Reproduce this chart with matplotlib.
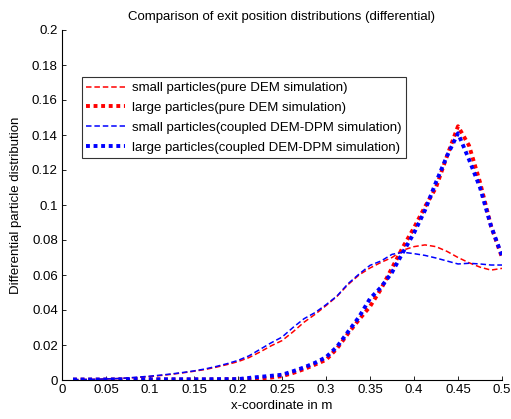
import matplotlib
matplotlib.use("Agg")
import matplotlib.pyplot as plt
import numpy as np

plt.rcParams['font.family'] = ['Liberation Sans', 'DejaVu Sans']

x = [0.0125, 0.025, 0.0375, 0.05, 0.0625, 0.075, 0.0875, 0.1, 0.1125, 0.125,
     0.1375, 0.15, 0.1625, 0.175, 0.1875, 0.2, 0.2125, 0.225, 0.2375, 0.25,
     0.2625, 0.275, 0.2875, 0.3, 0.3125, 0.325, 0.3375, 0.35, 0.3625, 0.375,
     0.3875, 0.4, 0.4125, 0.425, 0.4375, 0.45, 0.4625, 0.475, 0.4875, 0.5]

small_dem = [0.0002, 0.0003, 0.0004, 0.0006, 0.0008, 0.0011, 0.0015, 0.0020, 0.0026, 0.0033,
             0.0041, 0.0050, 0.0060, 0.0073, 0.0088, 0.0105, 0.0128, 0.0160, 0.0195, 0.0225,
             0.0275, 0.0330, 0.0375, 0.0425, 0.0478, 0.0545, 0.0600, 0.0640, 0.0672, 0.0700,
             0.0742, 0.0762, 0.0772, 0.0762, 0.0735, 0.0700, 0.0670, 0.0645, 0.0628, 0.0638]

large_dem = [0.0002, 0.0002, 0.0002, 0.0002, 0.0003, 0.0003, 0.0003, 0.0003, 0.0003, 0.0003,
             0.0003, 0.0003, 0.0003, 0.0003, 0.0004, 0.0004, 0.0006, 0.0009, 0.0014, 0.0022,
             0.0040, 0.0062, 0.0088, 0.0115, 0.0180, 0.0265, 0.0345, 0.0420, 0.0520, 0.0640,
             0.0760, 0.0870, 0.0990, 0.1100, 0.1280, 0.1450, 0.1340, 0.1130, 0.0880, 0.0700]

small_cpl = [0.0002, 0.0003, 0.0004, 0.0006, 0.0008, 0.0012, 0.0017, 0.0022, 0.0028, 0.0035,
             0.0043, 0.0052, 0.0063, 0.0077, 0.0093, 0.0112, 0.0138, 0.0175, 0.0212, 0.0245,
             0.0300, 0.0350, 0.0385, 0.0430, 0.0480, 0.0550, 0.0605, 0.0655, 0.0680, 0.0718,
             0.0730, 0.0722, 0.0712, 0.0697, 0.0680, 0.0663, 0.0667, 0.0663, 0.0657, 0.0657]

large_cpl = [0.0003, 0.0003, 0.0003, 0.0003, 0.0004, 0.0004, 0.0004, 0.0004, 0.0004, 0.0004,
             0.0004, 0.0004, 0.0004, 0.0005, 0.0005, 0.0005, 0.0012, 0.0018, 0.0024, 0.0030,
             0.0050, 0.0072, 0.0098, 0.0130, 0.0190, 0.0275, 0.0360, 0.0465, 0.0530, 0.0615,
             0.0730, 0.0840, 0.0970, 0.1130, 0.1280, 0.1410, 0.1260, 0.1100, 0.0880, 0.0710]

labels = ['small particles(pure DEM simulation)',
          'large particles(pure DEM simulation)',
          'small particles(coupled DEM-DPM simulation)',
          'large particles(coupled DEM-DPM simulation)']

xticks = [0, 0.05, 0.1, 0.15, 0.2, 0.25, 0.3, 0.35, 0.4, 0.45, 0.5]
yticks = [0, 0.02, 0.04, 0.06, 0.08, 0.1, 0.12, 0.14, 0.16, 0.18, 0.2]

FS = 9.5
fig = plt.figure(figsize=(5.11, 4.19), dpi=100)
ax = fig.add_axes([62/511, 1-380/419, 440/511, 350/419])

dash = (0, (3.6, 1.9))
dot = (0, (1.0, 0.95))
ax.plot(x, small_dem, color='#ff0000', lw=1.1, linestyle=dash, label=labels[0])
ax.plot(x, large_dem, color='#ff0000', lw=2.8, linestyle=dot, dash_capstyle='butt', label=labels[1])
ax.plot(x, small_cpl, color='#0000ff', lw=1.1, linestyle=dash, label=labels[2])
ax.plot(x, large_cpl, color='#0000ff', lw=2.8, linestyle=dot, dash_capstyle='butt', label=labels[3])

ax.set_xlim(0, 0.5)
ax.set_ylim(0, 0.2)
ax.set_xticks(xticks)
ax.set_xticklabels([f'{t:g}' for t in xticks])
ax.set_yticks(yticks)
ax.set_yticklabels([f'{t:g}' for t in yticks])
ax.tick_params(direction='in', length=3, width=0.6, labelsize=FS, pad=3)
for s in ['top', 'right']:
    ax.spines[s].set_visible(False)
for s in ['left', 'bottom']:
    ax.spines[s].set_linewidth(0.8)

ax.set_title('Comparison of exit position distributions (differential)', fontsize=FS, pad=7)
ax.set_xlabel('x-coordinate in m', fontsize=FS, labelpad=3)
ax.set_ylabel('Differential particle distribution', fontsize=FS, labelpad=7)

leg = ax.legend(loc='upper left', bbox_to_anchor=((81.7-62)/440, (380-77.5)/350),
                fontsize=FS, frameon=True, fancybox=False, shadow=False,
                handlelength=2.9, handletextpad=0.55, borderpad=0.35, labelspacing=0.57,
                borderaxespad=0)
leg.get_frame().set_edgecolor('black')
leg.get_frame().set_linewidth(0.8)

fig.savefig('out.png', dpi=100)
